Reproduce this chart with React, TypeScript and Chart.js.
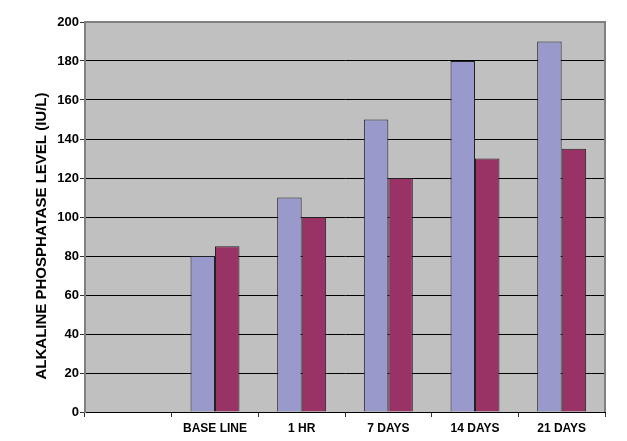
import React, { useEffect, useRef } from "react";
import { Chart, registerables } from "chart.js";

Chart.register(...registerables);

const categories = ["", "BASE LINE", "1 HR", "7 DAYS", "14 DAYS", "21 DAYS"];
const seriesA = [null, 80, 110, 150, 180, 190];
const seriesB = [null, 85, 100, 120, 130, 135];
const yTitle = "ALKALINE PHOSPHATASE LEVEL (IU/L)";
const yMin = 0;
const yMax = 200;
const yStep = 20;

const FONT = "'Liberation Sans', Arial, sans-serif";

export default function App() {
  const ref = useRef<HTMLCanvasElement | null>(null);
  useEffect(() => {
    if (!ref.current) return;
    const bgPlugin = {
      id: "plotBg",
      beforeDraw(chart: any) {
        const { ctx, chartArea: a } = chart;
        ctx.save();
        ctx.fillStyle = "#C0C0C0";
        ctx.fillRect(a.left, a.top, a.right - a.left, a.bottom - a.top);
        ctx.restore();
      },
      afterDraw(chart: any) {
        const { ctx, chartArea: a } = chart;
        ctx.save();
        ctx.strokeStyle = "#808080";
        ctx.lineWidth = 2;
        ctx.beginPath();
        ctx.moveTo(a.left, a.top);
        ctx.lineTo(a.right, a.top);
        ctx.lineTo(a.right, a.bottom);
        ctx.stroke();
        ctx.translate(42, 236);
        ctx.rotate(-Math.PI / 2);
        ctx.fillStyle = "#000";
        ctx.font = `bold 15px ${FONT}`;
        ctx.textAlign = "center";
        ctx.textBaseline = "middle";
        ctx.fillText(yTitle, 0, 0);
        ctx.restore();
      },
    };
    const chart = new Chart(ref.current, {
      type: "bar",
      data: {
        labels: categories,
        datasets: [
          {
            data: seriesA as any,
            backgroundColor: "#9999CC",
            borderColor: "#222",
            borderWidth: 1,
          },
          {
            data: seriesB as any,
            backgroundColor: "#993366",
            borderColor: "#222",
            borderWidth: 1,
          },
        ],
      },
      options: {
        responsive: false,
        animation: false,
        layout: { padding: { left: 0, top: 22, right: 22, bottom: 0 } },
        plugins: { legend: { display: false }, tooltip: { enabled: false } },
        datasets: { bar: { barPercentage: 1, categoryPercentage: 0.565 } },
        scales: {
          x: {
            afterFit: (s: any) => {
              s.height = 29;
            },
            grid: {
              drawOnChartArea: false,
              drawTicks: true,
              offset: true,
              tickLength: 5,
              tickColor: "#333",
            },
            border: { color: "#000", width: 1 },
            ticks: {
              color: "#000",
              padding: 4,
              maxRotation: 0,
              autoSkip: false,
              font: { family: FONT, size: 12, weight: "bold" },
            },
          },
          y: {
            min: yMin,
            max: yMax,
            afterFit: (s: any) => {
              s.width = 85;
            },
            grid: {
              color: (c: any) => (c.tick && c.tick.value === yMax ? "#808080" : "#000"),
              lineWidth: 1,
              tickLength: 5,
              tickColor: "#333",
            },
            border: { color: "#808080", width: 2 },
            ticks: {
              stepSize: yStep,
              color: "#000",
              padding: 1,
              font: { family: FONT, size: 13, weight: "bold" },
            },
          },
        },
      },
      plugins: [bgPlugin],
    });
    return () => chart.destroy();
  }, []);
  return (
    <div style={{ position: "fixed", left: 0, top: 0, width: 627, height: 441, background: "#fff" }}>
      <canvas ref={ref} width={627} height={441} style={{ width: 627, height: 441 }} />
    </div>
  );
}
